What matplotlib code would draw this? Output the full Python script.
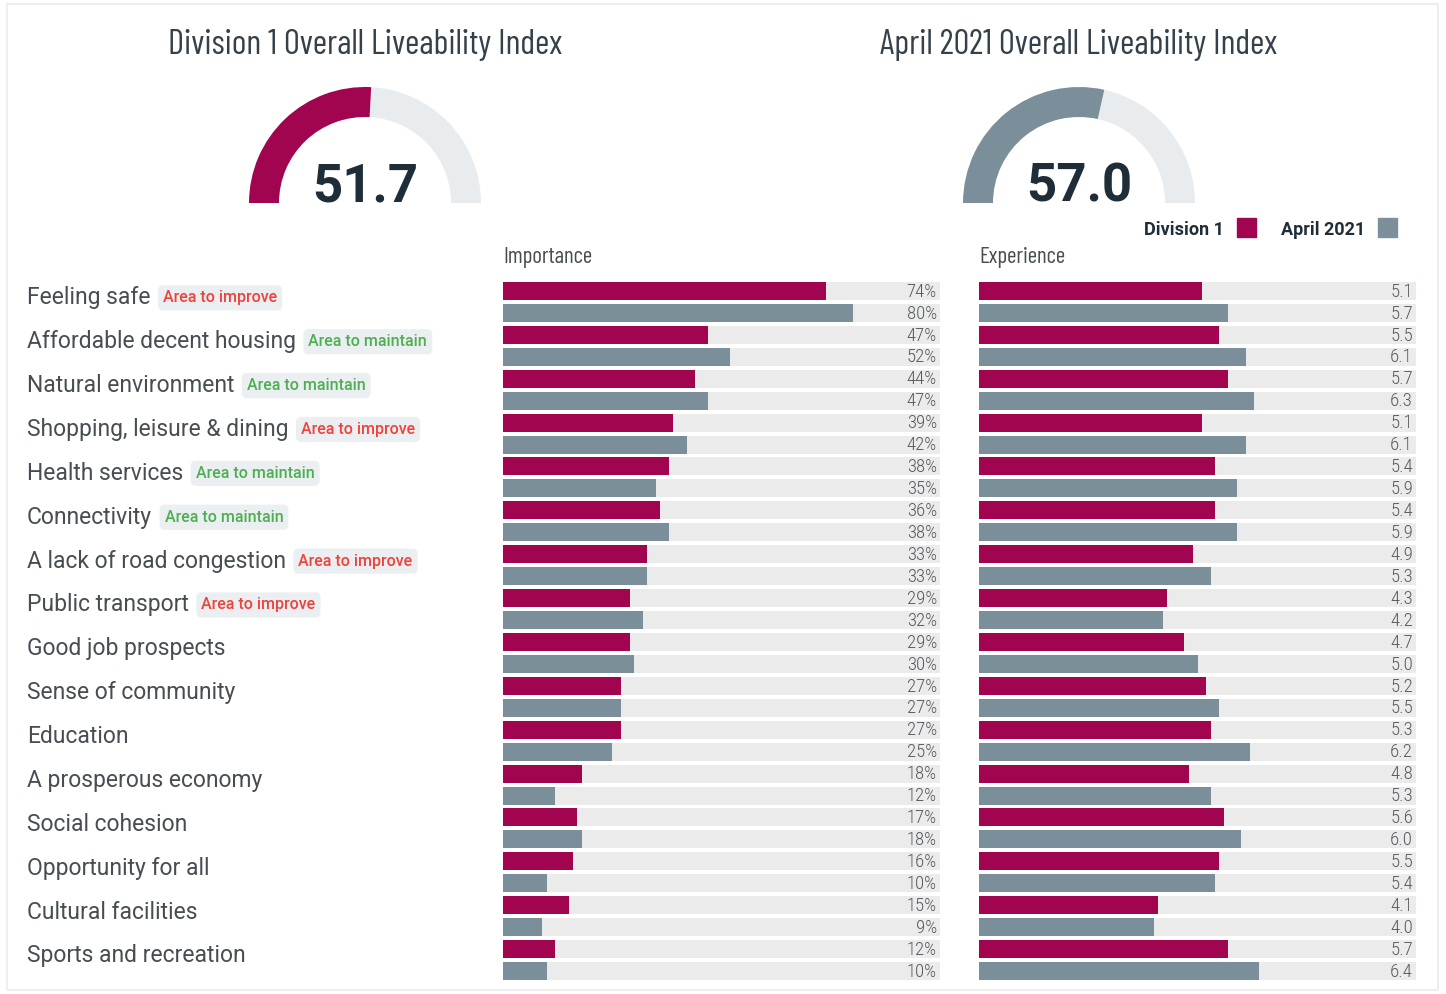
import matplotlib
matplotlib.use("Agg")
import matplotlib.pyplot as plt
from matplotlib.patches import Wedge, Rectangle
from matplotlib import transforms

W, H = 1446, 994

categories = [
    "Feeling safe", "Affordable decent housing", "Natural environment",
    "Shopping, leisure & dining", "Health services", "Connectivity",
    "A lack of road congestion", "Public transport", "Good job prospects",
    "Sense of community", "Education", "A prosperous economy",
    "Social cohesion", "Opportunity for all", "Cultural facilities",
    "Sports and recreation",
]
tags = ["improve", "maintain", "maintain", "improve", "maintain", "maintain",
        "improve", "improve", None, None, None, None, None, None, None, None]

importance_div1 = [74, 47, 44, 39, 38, 36, 33, 29, 29, 27, 27, 18, 17, 16, 15, 12]
importance_apr21 = [80, 52, 47, 42, 35, 38, 33, 32, 30, 27, 25, 12, 18, 10, 9, 10]
experience_div1 = [5.1, 5.5, 5.7, 5.1, 5.4, 5.4, 4.9, 4.3, 4.7, 5.2, 5.3, 4.8, 5.6, 5.5, 4.1, 5.7]
experience_apr21 = [5.7, 6.1, 6.3, 6.1, 5.9, 5.9, 5.3, 4.2, 5.0, 5.5, 6.2, 5.3, 6.0, 5.4, 4.0, 6.4]

index_div1 = 51.7
index_apr21 = 57.0

CRIMSON = "#A10550"
SLATE = "#7A8F9A"
TRACK = "#EBEBEB"
GAUGE_BG = "#E9ECEF"
DARK = "#1E2D38"
TEXT = "#474D52"
NARROW = ["Barlow Condensed", "DejaVu Sans"]
VALUES = ["Roboto Condensed", "DejaVu Sans"]

plt.rcParams["font.family"] = ["Roboto", "DejaVu Sans"]

fig = plt.figure(figsize=(W / 100, H / 100), dpi=100)
fig.patch.set_facecolor("white")

# card outline
fig.patches.append(Rectangle((7 / W, 4 / H), 1431 / W, 1 - 8 / H, transform=fig.transFigure,
                             fill=False, ec="#EEEEEE", lw=1.5))


def px_axes(x0, y0, w, h):
    return fig.add_axes([x0 / W, 1 - (y0 + h) / H, w / W, h / H])


def gauge(cx, value, color, title):
    ax = px_axes(cx - 125, 80, 250, 130)
    ax.set_xlim(-125, 125)
    ax.set_ylim(-7, 123)
    ax.axis("off")
    split = 180 - value / 100 * 180
    ax.add_patch(Wedge((0, 0), 116, 0, split, width=30, color=GAUGE_BG, lw=0))
    ax.add_patch(Wedge((0, 0), 116, split, 180, width=30, color=color, lw=0))
    ax.text(0, 1, f"{value:.1f}", ha="center", va="baseline", fontsize=38,
            fontweight="bold", color=DARK)
    fig.text(cx / W, 1 - 45 / H, title, ha="center", va="center", fontsize=25,
             family=NARROW, fontweight="normal", color="#34414B")


gauge(365, index_div1, CRIMSON, "Division 1 Overall Liveability Index")
gauge(1079, index_apr21, SLATE, "April 2021 Overall Liveability Index")

# legend
fig.text(1224 / W, 1 - 230 / H, "Division 1", ha="right", va="center", fontsize=13,
         fontweight="bold", color=DARK)
fig.text(1365 / W, 1 - 230 / H, "April 2021", ha="right", va="center", fontsize=13,
         fontweight="bold", color=DARK)
fig.patches.append(Rectangle((1237 / W, 1 - 237 / H), 19 / W, 19 / H, transform=fig.transFigure,
                             color=CRIMSON))
fig.patches.append(Rectangle((1378 / W, 1 - 237 / H), 19 / W, 19 / H, transform=fig.transFigure,
                             color=SLATE))


def bar_panel(x0, div1, apr21, full, fmt, heading):
    ax = px_axes(x0, 280, 437, 702)
    ypos_d = [2 * i for i in range(len(div1))]
    ypos_a = [2 * i + 1 for i in range(len(apr21))]
    allpos = ypos_d + ypos_a
    ax.barh(allpos, [full] * len(allpos), height=0.82, color=TRACK, lw=0)
    ax.barh(ypos_d, div1, height=0.82, color=CRIMSON, lw=0)
    ax.barh(ypos_a, apr21, height=0.82, color=SLATE, lw=0)
    for y, v in zip(ypos_d + ypos_a, list(div1) + list(apr21)):
        ax.text(full * 0.993, y + 0.03, fmt(v), ha="right", va="center", fontsize=13.5,
                family=VALUES, fontweight="light", color="#555A5E")
    ax.set_xlim(0, full)
    ax.set_ylim(2 * len(div1) - 0.5, -0.5)
    ax.axis("off")
    fig.text(x0 / W, 1 - 257 / H, heading, ha="left", va="center", fontsize=16.5,
             family=NARROW, fontweight="normal", color=TEXT)
    return ax


imp_ax = bar_panel(503, importance_div1, importance_apr21, 100, lambda v: f"{v}%", "Importance")
exp_ax = bar_panel(979, experience_div1, experience_apr21, 10, lambda v: f"{v:.1f}", "Experience")

# category names with improve / maintain tags
trans = transforms.blended_transform_factory(fig.transFigure, imp_ax.transData)
tag_style = {
    "improve": ("Area to improve", "#F0413A"),
    "maintain": ("Area to maintain", "#4CAF50"),
}
for i, (name, tag) in enumerate(zip(categories, tags)):
    label = imp_ax.text(27 / W, 2 * i + 0.2, name, transform=trans, ha="left",
                        va="center_baseline", fontsize=16.5, fontweight="normal",
                        color=TEXT, clip_on=False)
    if tag:
        txt, col = tag_style[tag]
        imp_ax.annotate(txt, xy=(1, 0.5), xycoords=label, xytext=(9, 0),
                        textcoords="offset points", ha="left", va="center",
                        fontsize=11.5, fontweight="medium", color=col,
                        bbox=dict(boxstyle="round,pad=0.32,rounding_size=0.35",
                                  fc="#ECEFF1", ec="none"))

fig.savefig("out.png", dpi=100)
